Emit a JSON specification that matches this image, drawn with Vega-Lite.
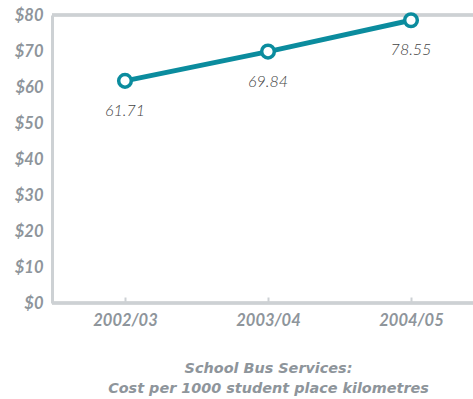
{
  "$schema": "https://vega.github.io/schema/vega-lite/v6.json",
  "autosize": "none",
  "padding": {"left": 52, "top": 15, "right": 0, "bottom": 96},
  "width": 421,
  "height": 288,
  "background": "white",
  "config": {
    "view": {"stroke": null},
    "font": "Lato"
  },
  "data": {
    "values": [
      {"year": "2002/03", "cost": 61.71},
      {"year": "2003/04", "cost": 69.84},
      {"year": "2004/05", "cost": 78.55}
    ]
  },
  "encoding": {
    "x": {
      "field": "year", "type": "ordinal",
      "scale": {"type": "point", "padding": 0, "range": [73, 359]},
      "axis": {
        "title": ["School Bus Services:", "Cost per 1000 student place kilometres"],
        "titleFont": "DejaVu Sans", "titleFontSize": 14.4, "titleFontStyle": "italic", "titleFontWeight": "bold",
        "titleColor": "#8e959b", "titlePadding": 33, "titleLineHeight": 20,
        "labelAngle": 0, "labelFont": "Lato", "labelFontSize": 16.5, "labelFontStyle": "italic",
        "labelFontWeight": "bold", "labelColor": "#8e959b", "labelPadding": 15,
        "domain": false,
        "ticks": true, "tickSize": -6, "tickColor": "#cdd1d4", "tickWidth": 2, "grid": false
      }
    },
    "y": {
      "field": "cost", "type": "quantitative",
      "scale": {"domain": [0, 80]},
      "axis": {
        "title": null, "values": [0,10,20,30,40,50,60,70,80],
        "labelExpr": "'$' + datum.value",
        "labelFont": "Lato", "labelFontSize": 16.5, "labelFontStyle": "italic",
        "labelFontWeight": "bold", "labelColor": "#8e959b", "labelPadding": 9,
        "domain": true, "domainColor": "#cdd1d4", "domainWidth": 3,
        "ticks": false, "grid": false
      }
    }
  },
  "layer": [
    {
      "mark": {"type": "rule", "color": "#cdd1d4", "strokeWidth": 3},
      "encoding": {"y": {"datum": 80}, "x": null}
    },
    {
      "mark": {"type": "rule", "color": "#cdd1d4", "strokeWidth": 3},
      "encoding": {"y": {"datum": 0}, "x": null}
    },
    {"mark": {"type": "line", "color": "#0b8c9e", "strokeWidth": 5}},
    {"mark": {"type": "point", "shape": "circle", "filled": true, "fill": "white", "stroke": "#0b8c9e", "strokeWidth": 3.5, "size": 160, "opacity": 1}},
    {
      "mark": {"type": "text", "dy": 30, "font": "Lato", "fontSize": 16, "fontStyle": "italic", "fontWeight": 300, "color": "#444444"},
      "encoding": {"text": {"field": "cost", "type": "quantitative", "format": ".2f"}}
    }
  ]
}
